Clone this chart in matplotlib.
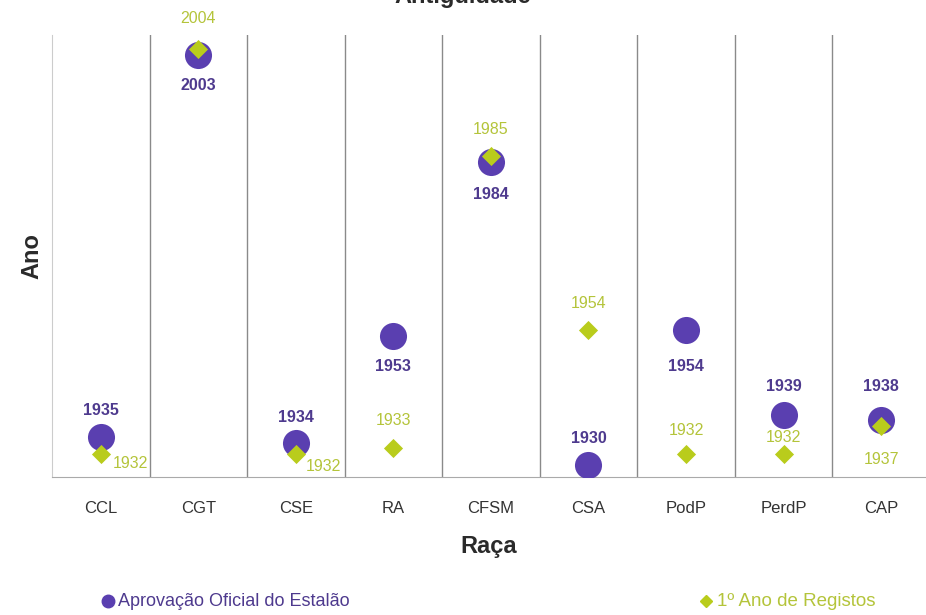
import matplotlib
matplotlib.use("Agg")
import matplotlib.pyplot as plt
from matplotlib.lines import Line2D

plt.rcParams['font.family'] = ['Liberation Sans', 'DejaVu Sans']

racas = ["CCL", "CGT", "CSE", "RA", "CFSM", "CSA", "PodP", "PerdP", "CAP"]
aprovacao = [1935, 2003, 1934, 1953, 1984, 1930, 1954, 1939, 1938]
registos = [1932, 2004, 1932, 1933, 1985, 1954, 1932, 1932, 1937]
# label offsets in points (dx, dy)
off_aprov = [(0, 19), (0, -22), (0, 18), (0, -22), (0, -24), (0, 19), (0, -26), (0, 20), (0, 24)]
off_reg = [(21, -7), (0, 22), (20, -9), (0, 20), (0, 19), (0, 19), (0, 17), (0, 12), (0, -24)]

PURPLE = "#5a3fb0"
PURPLE_TXT = "#4e3a8e"
GREEN = "#b9cc1c"
GREEN_TXT = "#b4c43a"

fig = plt.figure(figsize=(9.26, 6.15), dpi=100)
ax = fig.add_axes([52/926, 1-477/615, (926-52)/926, (477-35)/615])

x = list(range(len(racas)))
ax.scatter(x, aprovacao, s=380, color=PURPLE, marker='o', zorder=3, linewidths=0)
ax.scatter(x, registos, s=95, color=GREEN, marker='D', zorder=4, linewidths=0)

for i in x:
    ax.annotate(str(aprovacao[i]), (i, aprovacao[i]), xytext=off_aprov[i],
                textcoords='offset points', ha='center', va='center',
                color=PURPLE_TXT, fontsize=11.5, fontweight='bold', zorder=5,
                annotation_clip=False)
    ax.annotate(str(registos[i]), (i, registos[i]), xytext=off_reg[i],
                textcoords='offset points', ha='center', va='center',
                color=GREEN_TXT, fontsize=11.5, zorder=5, annotation_clip=False)

ax.set_xlim(-0.5, 8.46)
ax.set_ylim(1927.9, 2006.5)
for b in range(1, len(racas)):
    ax.axvline(b - 0.5, color="#8a8a8a", lw=1, zorder=1)

ax.set_xticks(x)
ax.set_xticklabels(racas, fontsize=12, color="#333333")
ax.tick_params(axis='x', length=0, pad=17)
ax.set_yticks([])
for s in ['top', 'right']:
    ax.spines[s].set_visible(False)
ax.spines['left'].set_color('#cccccc')
ax.spines['bottom'].set_color('#aaaaaa')

ax.set_xlabel("Raça", fontsize=17, fontweight='bold', color="#2a2a2a", labelpad=14)
ax.set_ylabel("Ano", fontsize=17, fontweight='bold', color="#2a2a2a", labelpad=6)

fig.text(0.5, 1 - 3/615, "Antiguidade", ha='center', va='baseline',
         fontsize=17, fontweight='bold', color="#2a2a2a")

# legend
fig.text(118/926, 1 - 602/615, "Aprovação Oficial do Estalão", ha='left', va='center',
         fontsize=13, color=PURPLE_TXT)
fig.add_artist(Line2D([108/926], [1 - 601/615], marker='o', color=PURPLE,
                      markersize=9, linestyle='None', transform=fig.transFigure))
fig.text(717/926, 1 - 602/615, "1º Ano de Registos", ha='left', va='center',
         fontsize=13.5, color=GREEN_TXT)
fig.add_artist(Line2D([706/926], [1 - 601/615], marker='D', color=GREEN,
                      markersize=6, linestyle='None', transform=fig.transFigure))

fig.savefig("out.png", dpi=100)
